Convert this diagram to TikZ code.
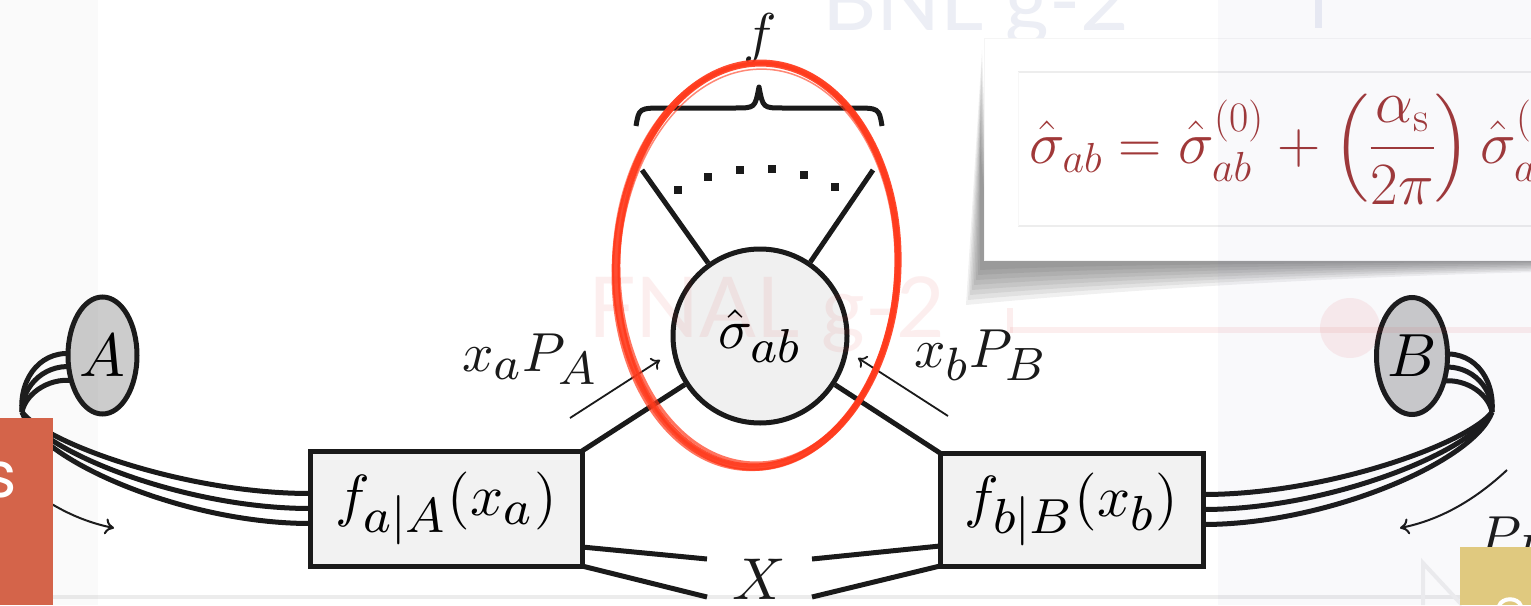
\RequirePackage{fix-cm}
\documentclass[tikz,border=0pt]{standalone}
\usepackage{fontspec}
\usetikzlibrary{shapes.geometric,arrows.meta,calc}
\DeclareFontFamily{OMX}{cmex}{}
\DeclareFontShape{OMX}{cmex}{m}{n}{<->cmex10}{}
\DeclareMathSizes{10}{10}{8.5}{7}
\newfontfamily\latofont{Lato}
\newfontfamily\popfont{Poppins}
\newcommand{\myfs}[1]{\fontsize{#1}{#1}\selectfont}
% 10pt math with large scripts, blown up as in the original drawing
\newcommand{\smallmathx}[2]{\scalebox{#1}{\fontsize{10}{12}\selectfont$#2$}}
\definecolor{ink}{RGB}{26,26,26}
\definecolor{redpen}{RGB}{255,58,28}
\definecolor{formred}{RGB}{160,56,56}
\definecolor{orangebox}{RGB}{212,100,74}
\definecolor{yellowbox}{RGB}{224,201,127}
\definecolor{bnlgray}{RGB}{236,238,245}
\definecolor{fnalpink}{RGB}{225,50,50}
\pgfdeclarelayer{back}
\pgfdeclarelayer{bg}
\pgfdeclarelayer{front}
\pgfsetlayers{back,bg,main,front}
\tikzset{
  thk/.style={line width=5pt, draw=ink},
  pdfbox/.style={draw=ink, line width=5pt, fill=gray!10, inner sep=0pt, outer sep=0pt},
  hadron/.style={ellipse, draw=ink, line width=5pt, fill=gray!40, inner sep=0pt, outer sep=0pt,
                 minimum width=69pt, minimum height=117pt},
  partarrow/.style={line width=1.8pt, draw=ink, -{To[length=8pt,width=14pt]}},
  bigarrow/.style={line width=2pt, draw=ink, -{To[length=9pt,width=16pt]}},
  lbl/.style={inner sep=0pt, text=ink},
}
\begin{document}
\begin{tikzpicture}[x=1pt,y=-1pt]
\useasboundingbox (0,0) rectangle (1531,605);

% ---------- main nodes ----------
\node[pdfbox, minimum width=272pt, minimum height=115pt] (fa) at (446,508.5) {\smallmathx{5.8}{f_{a|A}(x_a)}};
\node[pdfbox, minimum width=263pt, minimum height=113pt] (fb) at (1071.5,509.5) {\smallmathx{5.8}{f_{b|B}(x_b)}};
\node[hadron] (A) at (102.5,355.5) {\smallmathx{6.1}{A}};
\node[hadron, minimum width=71pt] (B) at (1412,356) {\smallmathx{6.1}{B}};
\node[circle, draw=ink, line width=5pt, fill=gray!12, minimum size=174pt, inner sep=0pt] (sig) at (760,336) {\smallmathx{5.6}{\hat\sigma_{ab}}};

\begin{pgfonlayer}{back}
  \fill[white] (0,0) rectangle (1531,605);
  \node[anchor=base west, text=bnlgray, font=\latofont\myfs{84}, inner sep=0pt] (bnl) at (822,30) {BNL g-2};
  \draw[bnlgray, line width=7pt] (1318,0) -- (1318,28);
  \draw[gray!15, line width=4pt] (0,597) -- (1531,597);
  \draw[gray!12, line width=4pt] (1423,605) -- (1423,563) -- (1462,605);
\end{pgfonlayer}

% ---------- triple lines (beams) ----------
\begin{pgfonlayer}{bg}
  \coordinate (pl) at (22,412);
  \coordinate (pr) at (1492,412);
  \foreach \o in {-15,0,15} {
    \draw[thk] ($(fb.east)+(0,\o)$) .. controls ($(fb.east)+(125,\o)$) and ($(pr)+({-20+\o/5},{40+0.6*\o})$) .. (pr);
    \draw[thk] ($(fa.west)+(0,\o)$) .. controls ($(fa.west)+(-125,\o)$) and ($(pl)+({20-\o/5},{40+0.6*\o})$) .. (pl);
  }
  \foreach \ax/\ay/\bx/\by/\ey in {3/-35/60/-8/-1, 0/-28/55/6/12, -4/-20/50/20/26} {
    \draw[thk] (pr) .. controls ($(pr)+(\ax,\ay)$) and ($(B)+(\bx,\by)$) .. ($(B)+(25,\ey)$);
    \draw[thk] (pl) .. controls ($(pl)+({-1*\ax},\ay)$) and ($(A)+({-1*\bx},\by)$) .. ($(A)+(-25,\ey)$);
  }
\end{pgfonlayer}

% ---------- lines to the hard process ----------
\draw[thk] (fa.north east) -- (sig);
\draw[thk] (fb.north west) -- (sig);
\coordinate (ul) at (642,170);
\coordinate (ur) at (873,170);
\draw[thk] (ul) -- (sig);
\draw[thk] (ur) -- (sig);
\foreach \t in {119.3,108.1,96.9,85.8,74.6,63.4} {
  \fill[ink] ($(sig)+({167*cos(\t)},{-167*sin(\t)})$) +(-4,-4) rectangle +(4,4);
}

% brace
\draw[ink, line width=5pt, line join=round] (636,126) .. controls (639,108) .. (665,108) -- (735,108)
   .. controls (755,108) .. (759,87) .. controls (763,108) .. (783,108) -- (853,108)
   .. controls (879,108) .. (882,126);
\node[lbl] (f) at (760,38) {\smallmathx{5.6}{f}};

% X lines
\coordinate (xl1) at (707,559);
\coordinate (xl2) at (707,597);
\coordinate (xr1) at (812,559);
\coordinate (xr2) at (812,597);
\draw[thk] ($(fa.south east)+(0,-19)$) -- (xl1);
\draw[thk] (fa.south east) -- (xl2);
\draw[thk] ($(fb.south west)+(0,-20)$) -- (xr1);
\draw[thk] (fb.south west) -- (xr2);
\node[lbl] (X) at (759,579) {\smallmathx{5.9}{X}};

% momentum arrows and labels
\coordinate (ta) at (570,418);
\coordinate (ha) at (660,360);
\coordinate (tb) at (948,416);
\coordinate (hb) at (858,358);
\draw[partarrow] (ta) -- (ha);
\draw[partarrow] (tb) -- (hb);
\node[lbl, anchor=base west] (xa) at (462,371) {\smallmathx{5.5}{x_aP_A}};
\node[lbl, anchor=base west] (xb) at (914,367) {\smallmathx{5.5}{x_bP_B}};

% beam arrows
\coordinate (al0) at (7,470);
\coordinate (al1) at (114,528);
\coordinate (ar0) at (1507,470);
\coordinate (ar1) at (1400,528);
\draw[bigarrow] (al0) .. controls (39,500) and (74,520) .. (al1);
\draw[bigarrow] (ar0) .. controls (1475,500) and (1440,520) .. (ar1);
\node[lbl, anchor=base west] (pb) at (1478,554) {\smallmathx{5.5}{P_B}};

% ---------- overlays ----------
\begin{pgfonlayer}{front}
  % faint slide text
  \node[anchor=base west, text=fnalpink, text opacity=0.08, font=\latofont\myfs{84}, inner sep=0pt] (fnal) at (588,337) {FNAL g-2};
  \draw[fnalpink, opacity=0.08, line width=6pt] (1010,330) -- (1531,330);
  \draw[fnalpink, opacity=0.08, line width=6pt] (1010,308) -- (1010,333);
  \fill[fnalpink, opacity=0.08] (1350,328) circle (30pt);

  % popup shadow
  \foreach \k in {0,...,7} {
    \fill[black, opacity=0.06] ({982-0.3*\k},{50+14*\k}) -- ({966+2*\k},{305-5*\k})
      .. controls (1100,{292-4*\k}) and (1300,{278-2*\k}) .. (1540,{272-1.5*\k}) -- (1540,250) -- (990,250) -- cycle;
  }
  % popup box
  \fill[white] (984,38) rectangle (1540,260);
  \draw[gray!8, line width=1pt] (984,38) rectangle (1540,260);
  \draw[gray!14, line width=1.2pt] (1018,72) -- (1540,72);
  \draw[gray!14, line width=1.2pt] (1018,226) -- (1540,226);
  \draw[gray!6, line width=1pt] (1018,72) -- (1018,226);
  \node[anchor=base west, inner sep=0pt, text=formred, font=\myfs{60}] (eq) at (1029,163)
    {$\displaystyle\hat\sigma_{ab}=\hat\sigma^{(0)}_{ab}+\left(\frac{\alpha_{\mathrm s}}{2\pi}\right)\hat\sigma^{(1)}_{ab}$};

  % red hand-drawn ellipse
  \foreach \dx/\dy/\rx/\ry/\rot/\w/\op in {0/0/141/202/-2/7/0.9, 1/-2/139/200/-1/3/0.7, -1/2/143/203/-3/2.5/0.7, 2/1/140/204/-2.5/2/0.6, -2/-1/142/201/-1.5/2/0.6, 0/3/138/199/-2.5/1.5/0.6} {
    \draw[redpen, opacity=\op, line width=\w pt, rotate around={\rot:(757+\dx,265+\dy)}]
      (757+\dx,265+\dy) ellipse [x radius=\rx pt, y radius=\ry pt];
  }

  % slide tints
  \fill[gray, opacity=0.035] (0,0) rectangle (98,605);
  \fill[blue!30!gray, opacity=0.035] (1218,0) rectangle (1531,605);

  % slide side boxes
  \fill[orangebox] (0,418) rectangle (53,605);
  \node[anchor=base, text=white, font=\popfont\myfs{64}, inner sep=0pt] (s) at (0,497) {s};
  \fill[yellowbox] (1460,547) rectangle (1531,605);
  \draw[white, line width=4pt] (1499,606) .. controls (1502,597) and (1518,597) .. (1521,606);
\end{pgfonlayer}
\end{tikzpicture}
\end{document}
